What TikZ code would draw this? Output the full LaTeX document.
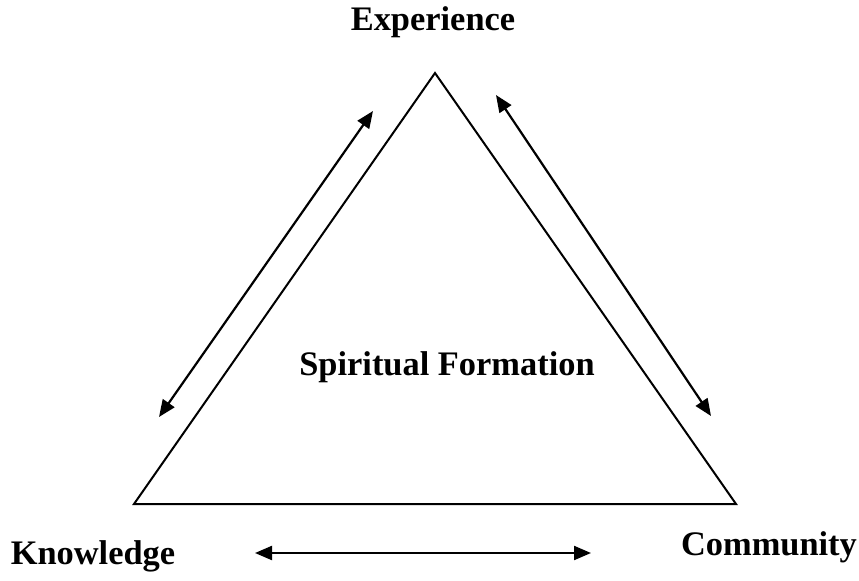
\documentclass[tikz,border=0pt]{standalone}
\usepackage{fontspec}
\setmainfont{Liberation Serif}
\usetikzlibrary{arrows.meta}

\tikzset{
  lbl/.style={font=\fontsize{17.2}{20}\selectfont\bfseries, inner sep=0pt},
  twoway/.style={{Triangle[length=8.5pt,width=7pt]}-{Triangle[length=8.5pt,width=7pt]}, line width=1.1pt}
}

\begin{document}
\begin{tikzpicture}[x=0.5pt,y=-0.5pt]
       \useasboundingbox (0,0) rectangle (859,580);
       % corners of the triangle
       \coordinate (top) at (435,73);
       \coordinate (left) at (134,504);
       \coordinate (right) at (736,504);
       \draw[line width=1pt, line join=miter] (top) -- (left) -- (right) -- cycle;
       % labels
       \node at (433,22) [lbl] (exp) {Experience};
       \node at (93,556) [lbl] (know) {Knowledge};
       \node at (769,547) [lbl] (comm) {Community};
       \node at (447,367) [lbl] (sf) {Spiritual Formation};
       % arrow ends
       \coordinate (l1) at (159,417);
       \coordinate (l2) at (373,111);
       \coordinate (r1) at (496,95);
       \coordinate (r2) at (711,416);
       \coordinate (b1) at (255,553);
       \coordinate (b2) at (591,553);
       \draw[twoway] (l1) -- (l2);
       \draw[twoway] (r1) -- (r2);
       \draw[twoway] (b1) -- (b2);
      \end{tikzpicture}
\end{document}
